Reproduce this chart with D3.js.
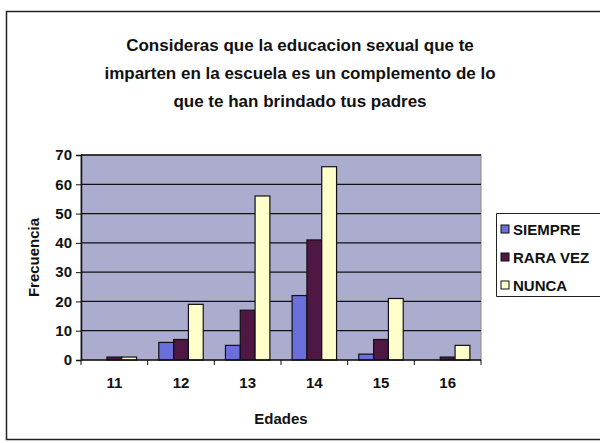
<!DOCTYPE html>
<html>
<head>
<meta charset="utf-8">
<script src="https://cdn.jsdelivr.net/npm/d3@7"></script>
<style>
  html, body { margin: 0; padding: 0; background: #fff; }
  svg { display: block; }
  text { font-family: Arial, "Liberation Sans", sans-serif; font-weight: bold; }
</style>
</head>
<body>
<div id="chart"></div>
<script>
// data
const ages = ["11", "12", "13", "14", "15", "16"];
const series = ["SIEMPRE", "RARA VEZ", "NUNCA"];
const siempre = [0, 6, 5, 22, 2, 0];
const raraVez = [1, 7, 17, 41, 7, 1];
const nunca = [1, 19, 56, 66, 21, 5];
const yTicks = [0, 10, 20, 30, 40, 50, 60, 70];
const titleLines = [
    "Consideras que la educacion sexual que te",
    "imparten en la escuela es un complemento de lo",
    "que te han brindado tus padres"
];

const colors = {"SIEMPRE": "#6b6fdc", "RARA VEZ": "#4e1744", "NUNCA": "#ffffcc"};
const values = {"SIEMPRE": siempre, "RARA VEZ": raraVez, "NUNCA": nunca};

const W = 600, H = 443;
const margin = {top: 155, right: 119, bottom: 83, left: 81};
const innerWidth = W - margin.left - margin.right,
    innerHeight = H - margin.top - margin.bottom;

const svg = d3.select("#chart").append("svg")
    .attr("width", W)
    .attr("height", H);

// outer chart border (the right side runs off the picture)
svg.append("path")
    .attr("d", `M${W},11.5 H6.5 V439.5 H${W}`)
    .attr("fill", "#fff")
    .attr("stroke", "#222")
    .attr("stroke-width", 1.5);

// title
svg.append("text")
    .attr("x", 300)
    .attr("y", 51)
    .attr("text-anchor", "middle")
    .attr("font-size", "17px")
    .attr("fill", "#111")
    .selectAll("tspan")
    .data(titleLines)
    .enter()
    .append("tspan")
    .attr("x", 300)
    .attr("dy", (d, i) => i === 0 ? 0 : 28)
    .text(d => d);

const g = svg.append("g")
    .attr("transform", `translate(${margin.left},${margin.top})`);

// scales
const x0 = d3.scaleBand().domain(ages).range([0, innerWidth]).padding(0);
const x1 = d3.scaleBand().domain(series).range([0, x0.bandwidth()])
    .paddingInner(0).paddingOuter(0.75);
const y = d3.scaleLinear().domain([0, 70]).range([innerHeight, 0]);

// plot area
g.append("rect")
    .attr("width", innerWidth)
    .attr("height", innerHeight)
    .attr("fill", "#abacce")
    .attr("stroke", "#888")
    .attr("stroke-width", 1);

// gridlines
g.append("g")
    .selectAll("line")
    .data(yTicks.slice(1))
    .enter()
    .append("line")
    .attr("x1", 0).attr("x2", innerWidth)
    .attr("y1", d => y(d)).attr("y2", d => y(d))
    .attr("stroke", "#111")
    .attr("stroke-width", 1.3);

// bars
const groups = g.append("g")
    .selectAll("g")
    .data(ages)
    .enter()
    .append("g")
    .attr("transform", d => `translate(${x0(d)},0)`);

groups.selectAll("rect")
    .data((d, i) => series.map(s => ({s: s, v: values[s][i]})))
    .enter()
    .append("rect")
    .attr("x", d => x1(d.s))
    .attr("y", d => y(d.v))
    .attr("width", x1.bandwidth())
    .attr("height", d => innerHeight - y(d.v))
    .attr("fill", d => colors[d.s])
    .attr("stroke", "#111")
    .attr("stroke-width", 1.2);

// y axis
const yAxis = d3.axisLeft(y).tickValues(yTicks).tickSize(5).tickPadding(4);
const yAxisG = g.append("g").call(yAxis);
yAxisG.select(".domain").attr("stroke", "#111").attr("stroke-width", 1.5);
yAxisG.selectAll(".tick line").attr("stroke", "#111");
yAxisG.selectAll(".tick text")
    .attr("font-size", "15px")
    .attr("font-family", "Arial, 'Liberation Sans', sans-serif")
    .attr("fill", "#111");

// x axis: tick marks at category boundaries, labels at centers
const xAxisG = g.append("g").attr("transform", `translate(0,${innerHeight})`);
xAxisG.append("line")
    .attr("x1", 0).attr("x2", innerWidth)
    .attr("stroke", "#111").attr("stroke-width", 1.5);
xAxisG.selectAll(".bound")
    .data(ages.concat(["end"]))
    .enter()
    .append("line")
    .attr("class", "bound")
    .attr("x1", (d, i) => i * x0.step())
    .attr("x2", (d, i) => i * x0.step())
    .attr("y1", 0).attr("y2", 5)
    .attr("stroke", "#111");
xAxisG.selectAll(".lbl")
    .data(ages)
    .enter()
    .append("text")
    .attr("class", "lbl")
    .attr("x", d => x0(d) + x0.bandwidth() / 2)
    .attr("y", 28)
    .attr("text-anchor", "middle")
    .attr("font-size", "15px")
    .attr("fill", "#111")
    .text(d => d);

// axis titles
svg.append("text")
    .attr("x", margin.left + innerWidth / 2)
    .attr("y", 424)
    .attr("text-anchor", "middle")
    .attr("font-size", "15px")
    .attr("fill", "#111")
    .text("Edades");

svg.append("text")
    .attr("transform", `translate(39,${margin.top + innerHeight / 2}) rotate(-90)`)
    .attr("text-anchor", "middle")
    .attr("font-size", "15px")
    .attr("fill", "#111")
    .text("Frecuencia");

// legend (box also runs to the right edge)
const legend = svg.append("g").attr("transform", "translate(496,213)");
legend.append("path")
    .attr("d", "M104,0.5 H0.5 V83.5 H104")
    .attr("fill", "#fff")
    .attr("stroke", "#222");
const items = legend.selectAll(".item")
    .data(series)
    .enter()
    .append("g")
    .attr("class", "item")
    .attr("transform", (d, i) => `translate(5,${16 + i * 28})`);
items.append("rect")
    .attr("x", 0).attr("y", -4)
    .attr("width", 8).attr("height", 8)
    .attr("fill", d => colors[d])
    .attr("stroke", "#111");
items.append("text")
    .attr("x", 12)
    .attr("y", 6)
    .attr("font-size", "15px")
    .attr("fill", "#111")
    .text(d => d);
</script>
</body>
</html>
